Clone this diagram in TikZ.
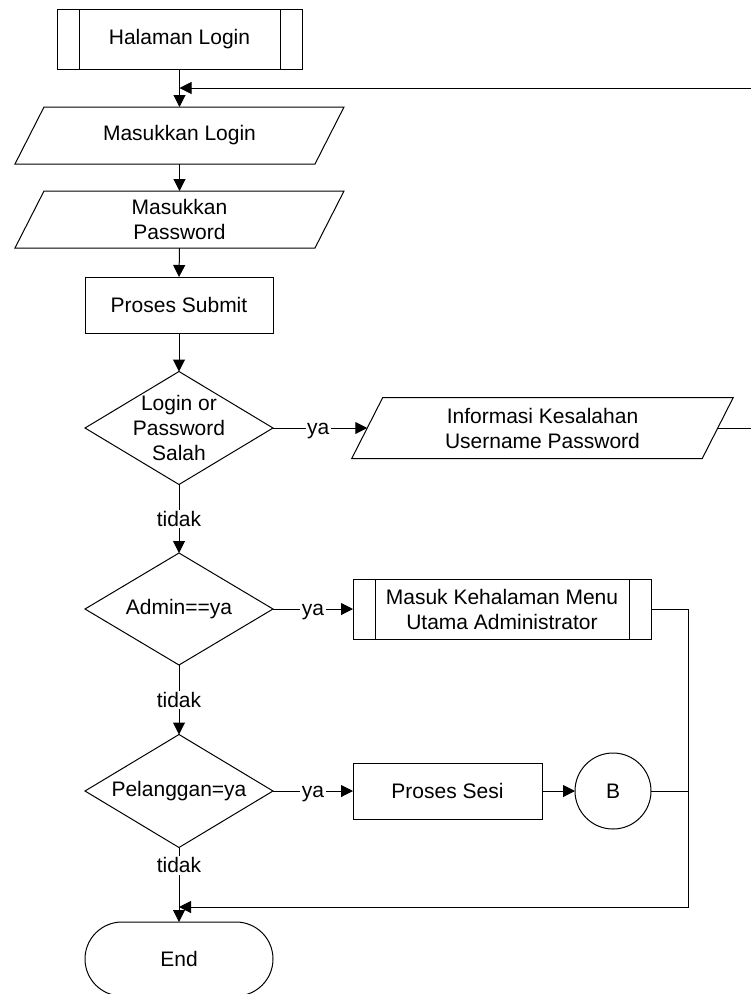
\documentclass[tikz,border=0pt]{standalone}
\usepackage{fontspec}
\setmainfont{Liberation Sans}
\usetikzlibrary{arrows.meta,shapes.geometric,calc}
\begin{document}
\begin{tikzpicture}[x=1pt,y=-1pt,
  every node/.style={font=\fontsize{21}{25}\selectfont, outer sep=0pt, inner sep=0pt},
  line/.style={draw=black, line width=1pt},
  flow/.style={line, -{Triangle[length=12pt,width=12pt]}},
  box/.style={rectangle, draw, line width=1pt, align=center},
  subproc/.style={box, path picture={
      \draw[line width=1pt]
        ([xshift=22pt]path picture bounding box.north west) -- ([xshift=22pt]path picture bounding box.south west)
        ([xshift=-22pt]path picture bounding box.north east) -- ([xshift=-22pt]path picture bounding box.south east);}},
  iobox/.style={rectangle, align=center},
  decision/.style={diamond, draw, line width=1pt, minimum width=188pt},
  terminal/.style={rectangle, draw, line width=1pt, rounded corners=37pt, minimum width=188pt, minimum height=74pt},
  connector/.style={circle, draw, line width=1pt, minimum size=76pt},
  edgelabel/.style={fill=white, inner sep=1.5pt},
  yalabel/.style={edgelabel, yshift=-3.5pt}
]
\fill[white] (0,0) rectangle (751,994);
\useasboundingbox (0,0) rectangle (751,994);

% main column
\node[subproc, minimum width=245pt, minimum height=60pt] (hl) at (179.5,39) {Halaman Login};
\node[iobox, minimum width=300pt, minimum height=57pt] (ml) at (179.5,135.5) {Masukkan Login};
\node[iobox, minimum width=300pt, minimum height=57pt] (mp) at (179.5,219.5) {Masukkan\\Password};
\node[box, minimum width=188pt, minimum height=56pt] (ps) at (179,305) {Proses Submit};
\node[decision, minimum height=113pt] (d1) at (179,428) {};
\node[align=center] (d1t) at (d1) {Login or\\Password\\Salah};
\node[decision, minimum height=112pt] (d2) at (179,609) {};
\node (d2t) at (d2) {Admin==ya};
\node[decision, minimum height=113pt] (d3) at (179,791) {};
\node (d3t) at (d3) {Pelanggan=ya};
\node[terminal] (end) at (179,959) {End};

% right-hand branches
\node[iobox, minimum width=350.5pt, minimum height=61pt] (info) at (542.5,428) {Informasi Kesalahan\\Username Password};
\node[subproc, minimum width=298pt, minimum height=60pt] (masuk) at (502,609) {Masuk Kehalaman Menu\\Utama Administrator};
\node[box, minimum width=189pt, minimum height=56pt] (sesi) at (447.5,791) {Proses Sesi};
\node[connector] (B) at (613,791) {B};

% slanted outlines of the input/output boxes
\foreach \n/\s in {ml/14.5, mp/14.5, info/15.5}
  \draw[line]
    ($(\n.north west)+(\s,0)$) -- ($(\n.north east)+(\s,0)$) --
    ($(\n.south east)-(\s,0)$) -- ($(\n.south west)-(\s,0)$) -- cycle;

% junction points
\coordinate (loopin) at (179.5,88);
\coordinate (rail) at (688,907);
\coordinate (endin) at (179,907);

% connectors
\draw[flow] (hl.south) -- (ml.north);
\draw[flow] (ml.south) -- (mp.north);
\draw[flow] (mp.south) -- (ps.north);
\draw[flow] (ps.south) -- (d1.north);
\draw[flow] (d1) -- node[yalabel, pos=0.48] {ya} (info);
\draw[flow] (d1.south) -- node[edgelabel] {tidak} (d2.north);
\draw[flow] (d2) -- node[yalabel] {ya} (masuk);
\draw[flow] (d2.south) -- node[edgelabel] {tidak} (d3.north);
\draw[flow] (d3) -- node[yalabel] {ya} (sesi);
\draw[flow] (d3.south) -- node[edgelabel, pos=0.24] {tidak} (end.north);
\draw[flow] (sesi) -- (B);

% return loop back to the login input
\draw[flow] (info.east) -- (770,428) |- (loopin);

% both exits lead to End
\draw[flow] (masuk.east) -| (rail) -- (endin);
\draw[line] (B.east) -- (B.east -| rail);
\end{tikzpicture}
\end{document}
